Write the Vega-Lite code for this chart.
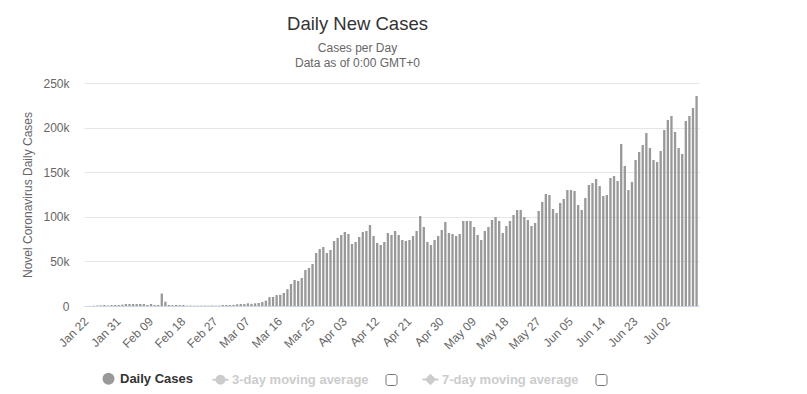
{
  "$schema": "https://vega.github.io/schema/vega-lite/v6.json",
  "width": 615,
  "height": 223,
  "autosize": {"type": "none"},
  "padding": {"left": 84, "top": 83, "right": 108, "bottom": 88},
  "background": "white",
  "config": {"font": "Liberation Sans", "view": {"stroke": null}},
  "title": {
    "text": "Daily New Cases",
    "subtitle": ["Cases per Day", "Data as of 0:00 GMT+0"],
    "anchor": "middle",
    "frame": "group",
    "dx": -34,
    "fontSize": 18.5,
    "fontWeight": "normal",
    "color": "#333333",
    "subtitleFontSize": 12,
    "subtitleColor": "#666666",
    "subtitleLineHeight": 15,
    "subtitlePadding": 10,
    "offset": 8
  },
  "data": {"values": [
    {"date": "Jan 22", "cases": 0},
    {"date": "Jan 23", "cases": 100},
    {"date": "Jan 24", "cases": 290},
    {"date": "Jan 25", "cases": 490},
    {"date": "Jan 26", "cases": 680},
    {"date": "Jan 27", "cases": 1100},
    {"date": "Jan 28", "cases": 500},
    {"date": "Jan 29", "cases": 1100},
    {"date": "Jan 30", "cases": 1200},
    {"date": "Jan 31", "cases": 1100},
    {"date": "Feb 01", "cases": 1500},
    {"date": "Feb 02", "cases": 2200},
    {"date": "Feb 03", "cases": 2200},
    {"date": "Feb 04", "cases": 2300},
    {"date": "Feb 05", "cases": 2200},
    {"date": "Feb 06", "cases": 2300},
    {"date": "Feb 07", "cases": 2200},
    {"date": "Feb 08", "cases": 1100},
    {"date": "Feb 09", "cases": 2300},
    {"date": "Feb 10", "cases": 1100},
    {"date": "Feb 11", "cases": 1100},
    {"date": "Feb 12", "cases": 14000},
    {"date": "Feb 13", "cases": 4800},
    {"date": "Feb 14", "cases": 1100},
    {"date": "Feb 15", "cases": 1000},
    {"date": "Feb 16", "cases": 1100},
    {"date": "Feb 17", "cases": 1000},
    {"date": "Feb 18", "cases": 1100},
    {"date": "Feb 19", "cases": 400},
    {"date": "Feb 20", "cases": 450},
    {"date": "Feb 21", "cases": 400},
    {"date": "Feb 22", "cases": 350},
    {"date": "Feb 23", "cases": 400},
    {"date": "Feb 24", "cases": 450},
    {"date": "Feb 25", "cases": 400},
    {"date": "Feb 26", "cases": 450},
    {"date": "Feb 27", "cases": 400},
    {"date": "Feb 28", "cases": 450},
    {"date": "Feb 29", "cases": 1100},
    {"date": "Mar 01", "cases": 1100},
    {"date": "Mar 02", "cases": 1100},
    {"date": "Mar 03", "cases": 1300},
    {"date": "Mar 04", "cases": 1900},
    {"date": "Mar 05", "cases": 2200},
    {"date": "Mar 06", "cases": 2300},
    {"date": "Mar 07", "cases": 3000},
    {"date": "Mar 08", "cases": 2400},
    {"date": "Mar 09", "cases": 3000},
    {"date": "Mar 10", "cases": 3400},
    {"date": "Mar 11", "cases": 4500},
    {"date": "Mar 12", "cases": 6000},
    {"date": "Mar 13", "cases": 10000},
    {"date": "Mar 14", "cases": 10100},
    {"date": "Mar 15", "cases": 12300},
    {"date": "Mar 16", "cases": 12500},
    {"date": "Mar 17", "cases": 14600},
    {"date": "Mar 18", "cases": 18800},
    {"date": "Mar 19", "cases": 24700},
    {"date": "Mar 20", "cases": 29100},
    {"date": "Mar 21", "cases": 28000},
    {"date": "Mar 22", "cases": 31400},
    {"date": "Mar 23", "cases": 40400},
    {"date": "Mar 24", "cases": 42600},
    {"date": "Mar 25", "cases": 47100},
    {"date": "Mar 26", "cases": 59400},
    {"date": "Mar 27", "cases": 63900},
    {"date": "Mar 28", "cases": 66100},
    {"date": "Mar 29", "cases": 59400},
    {"date": "Mar 30", "cases": 62800},
    {"date": "Mar 31", "cases": 72900},
    {"date": "Apr 01", "cases": 76200},
    {"date": "Apr 02", "cases": 79600},
    {"date": "Apr 03", "cases": 83000},
    {"date": "Apr 04", "cases": 80700},
    {"date": "Apr 05", "cases": 69500},
    {"date": "Apr 06", "cases": 71800},
    {"date": "Apr 07", "cases": 77400},
    {"date": "Apr 08", "cases": 83000},
    {"date": "Apr 09", "cases": 84100},
    {"date": "Apr 10", "cases": 90800},
    {"date": "Apr 11", "cases": 78500},
    {"date": "Apr 12", "cases": 70600},
    {"date": "Apr 13", "cases": 68400},
    {"date": "Apr 14", "cases": 71800},
    {"date": "Apr 15", "cases": 81800},
    {"date": "Apr 16", "cases": 79600},
    {"date": "Apr 17", "cases": 84100},
    {"date": "Apr 18", "cases": 79600},
    {"date": "Apr 19", "cases": 74000},
    {"date": "Apr 20", "cases": 72900},
    {"date": "Apr 21", "cases": 74000},
    {"date": "Apr 22", "cases": 78500},
    {"date": "Apr 23", "cases": 84100},
    {"date": "Apr 24", "cases": 100900},
    {"date": "Apr 25", "cases": 88600},
    {"date": "Apr 26", "cases": 71800},
    {"date": "Apr 27", "cases": 68400},
    {"date": "Apr 28", "cases": 74000},
    {"date": "Apr 29", "cases": 78500},
    {"date": "Apr 30", "cases": 85200},
    {"date": "May 01", "cases": 94200},
    {"date": "May 02", "cases": 81800},
    {"date": "May 03", "cases": 80700},
    {"date": "May 04", "cases": 78500},
    {"date": "May 05", "cases": 80700},
    {"date": "May 06", "cases": 95300},
    {"date": "May 07", "cases": 95300},
    {"date": "May 08", "cases": 95300},
    {"date": "May 09", "cases": 88600},
    {"date": "May 10", "cases": 79600},
    {"date": "May 11", "cases": 74000},
    {"date": "May 12", "cases": 84100},
    {"date": "May 13", "cases": 88600},
    {"date": "May 14", "cases": 96400},
    {"date": "May 15", "cases": 99800},
    {"date": "May 16", "cases": 95300},
    {"date": "May 17", "cases": 81800},
    {"date": "May 18", "cases": 89700},
    {"date": "May 19", "cases": 95300},
    {"date": "May 20", "cases": 102000},
    {"date": "May 21", "cases": 107600},
    {"date": "May 22", "cases": 107600},
    {"date": "May 23", "cases": 99800},
    {"date": "May 24", "cases": 96400},
    {"date": "May 25", "cases": 89700},
    {"date": "May 26", "cases": 93100},
    {"date": "May 27", "cases": 106500},
    {"date": "May 28", "cases": 116600},
    {"date": "May 29", "cases": 125600},
    {"date": "May 30", "cases": 124400},
    {"date": "May 31", "cases": 108700},
    {"date": "Jun 01", "cases": 104300},
    {"date": "Jun 02", "cases": 115500},
    {"date": "Jun 03", "cases": 120000},
    {"date": "Jun 04", "cases": 130000},
    {"date": "Jun 05", "cases": 130000},
    {"date": "Jun 06", "cases": 128900},
    {"date": "Jun 07", "cases": 113200},
    {"date": "Jun 08", "cases": 107600},
    {"date": "Jun 09", "cases": 121100},
    {"date": "Jun 10", "cases": 135700},
    {"date": "Jun 11", "cases": 137900},
    {"date": "Jun 12", "cases": 142400},
    {"date": "Jun 13", "cases": 134500},
    {"date": "Jun 14", "cases": 123300},
    {"date": "Jun 15", "cases": 124400},
    {"date": "Jun 16", "cases": 143500},
    {"date": "Jun 17", "cases": 145700},
    {"date": "Jun 18", "cases": 140100},
    {"date": "Jun 19", "cases": 181600},
    {"date": "Jun 20", "cases": 157000},
    {"date": "Jun 21", "cases": 130000},
    {"date": "Jun 22", "cases": 139000},
    {"date": "Jun 23", "cases": 163700},
    {"date": "Jun 24", "cases": 172600},
    {"date": "Jun 25", "cases": 180500},
    {"date": "Jun 26", "cases": 194000},
    {"date": "Jun 27", "cases": 177100},
    {"date": "Jun 28", "cases": 163700},
    {"date": "Jun 29", "cases": 161400},
    {"date": "Jun 30", "cases": 173800},
    {"date": "Jul 01", "cases": 197300},
    {"date": "Jul 02", "cases": 208500},
    {"date": "Jul 03", "cases": 213000},
    {"date": "Jul 04", "cases": 195100},
    {"date": "Jul 05", "cases": 177100},
    {"date": "Jul 06", "cases": 170400},
    {"date": "Jul 07", "cases": 207400},
    {"date": "Jul 08", "cases": 213000},
    {"date": "Jul 09", "cases": 222000},
    {"date": "Jul 10", "cases": 235400}
  ]},
  "mark": {"type": "bar"},
  "encoding": {
    "x": {
      "field": "date",
      "type": "ordinal",
      "sort": null,
      "scale": {"paddingInner": 0.35, "paddingOuter": 0.35},
      "axis": {
        "title": null,
        "values": ["Jan 22","Jan 31","Feb 09","Feb 18","Feb 27","Mar 07","Mar 16","Mar 25","Apr 03","Apr 12","Apr 21","Apr 30","May 09","May 18","May 27","Jun 05","Jun 14","Jun 23","Jul 02"],
        "labelAngle": -45,
        "labelAlign": "right",
        "labelBaseline": "middle",
        "labelPadding": 13,
        "labelColor": "#666666",
        "labelFontSize": 12,
        "labelOverlap": false,
        "labelFlush": false,
        "ticks": false,
        "grid": false,
        "domainColor": "#ccd6eb",
        "domainWidth": 1
      }
    },
    "y": {
      "field": "cases",
      "type": "quantitative",
      "scale": {"domain": [0, 250000], "nice": false},
      "axis": {
        "title": "Novel Coronavirus Daily Cases",
        "titleColor": "#666666",
        "titleFontSize": 12,
        "titleFontWeight": "normal",
        "titlePadding": 8,
        "values": [0, 50000, 100000, 150000, 200000, 250000],
        "labelExpr": "datum.value === 0 ? '0' : format(datum.value, '~s')",
        "labelColor": "#666666",
        "labelFontSize": 12,
        "labelPadding": 15,
        "labelFlush": false,
        "ticks": false,
        "domain": false,
        "gridColor": "#e6e6e6"
      }
    },
    "color": {
      "datum": "Daily Cases",
      "type": "nominal",
      "scale": {
        "domain": ["Daily Cases", "3-day moving average", "cb1", "7-day moving average", "cb2"],
        "range": ["#999999", "#cccccc", "#ffffff", "#cccccc", "#ffffff"]
      },
      "legend": {
        "orient": "none",
        "legendX": 18,
        "legendY": 289,
        "direction": "horizontal",
        "title": null,
        "padding": 0,
        "labelFontSize": 13,
        "labelFontWeight": "bold",
        "labelOffset": 5,
        "symbolSize": 256,
        "columnPadding": 15,
        "labelExpr": "(datum.label === 'cb1' || datum.label === 'cb2') ? '' : datum.label",
        "encode": {
          "symbols": {"update": {
            "shape": {"signal": "datum.value === 'Daily Cases' ? 'circle' : datum.value === '3-day moving average' ? 'M-1,0H1M-0.5,0A0.5,0.5 0 1,0 0.5,0A0.5,0.5 0 1,0 -0.5,0Z' : datum.value === '7-day moving average' ? 'M-1,0H1M0,-0.55L0.55,0L0,0.55L-0.55,0Z' : 'M-0.6,-1H0.6A0.4,0.4 0 0 1 1,-0.6V0.6A0.4,0.4 0 0 1 0.6,1H-0.6A0.4,0.4 0 0 1 -1,0.6V-0.6A0.4,0.4 0 0 1 -0.6,-1Z'"},
            "size": {"signal": "datum.value === 'Daily Cases' ? 144 : (datum.value === 'cb1' || datum.value === 'cb2') ? 121 : 256"},
            "fill": {"signal": "datum.value === 'Daily Cases' ? '#999999' : (datum.value === 'cb1' || datum.value === 'cb2') ? '#ffffff' : '#cccccc'"},
            "stroke": {"signal": "datum.value === 'Daily Cases' ? 'transparent' : (datum.value === 'cb1' || datum.value === 'cb2') ? '#767676' : '#cccccc'"},
            "strokeWidth": {"signal": "(datum.value === 'cb1' || datum.value === 'cb2') ? 1 : 2"},
            "opacity": {"value": 1}
          }},
          "labels": {"update": {
            "fill": {"signal": "datum.value === 'Daily Cases' ? '#333333' : '#cccccc'"}
          }}
        }
      }
    }
  }
}
